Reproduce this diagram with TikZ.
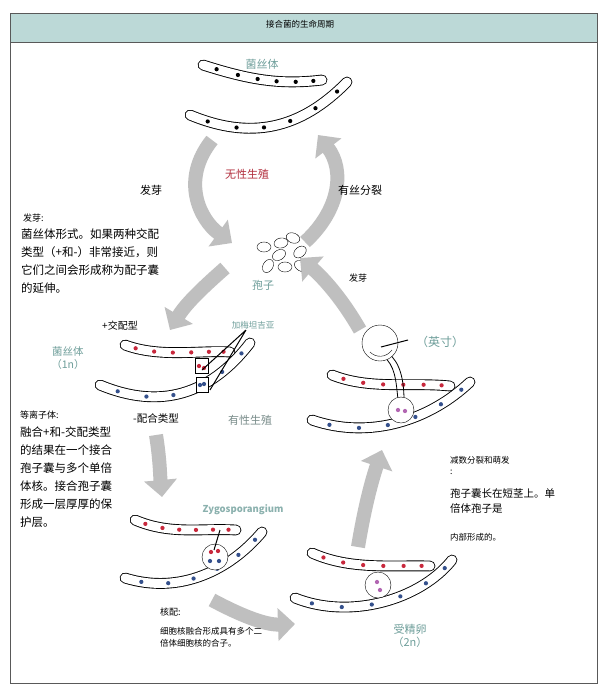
\documentclass[tikz,border=0pt]{standalone}
\usepackage{fontspec}
\setmainfont{Noto Sans CJK SC}
\usetikzlibrary{arrows.meta}
\definecolor{teal1}{HTML}{6E9E9A}
\definecolor{red1}{HTML}{B22D3C}
\definecolor{head}{HTML}{BCD9D7}
\definecolor{dred}{HTML}{C8283C}
\definecolor{dblue}{HTML}{34508C}
\tikzset{
 hy/.style={double=white,double distance=9pt,line width=0.9pt,line cap=round},
 d/.style={circle,fill=#1,inner sep=1.5pt},
 big/.style={line width=14pt,draw=gray!50,-{Triangle[length=17pt,width=32pt]}},
 lab/.style={font=\fontsize{9}{11}\selectfont,align=left,anchor=north west,inner sep=0},
 para/.style={font=\fontsize{11.5}{18}\selectfont,align=left,anchor=north west,inner sep=0},
 tl/.style={text=teal1,font=\fontsize{11}{13}\selectfont,align=center}
}
\newcommand\hyp[2]{\draw[hy] #1; \path #1 node[pos=.1,d=#2]{} node[pos=.27,d=#2]{} node[pos=.44,d=#2]{} node[pos=.61,d=#2]{} node[pos=.78,d=#2]{} node[pos=.93,d=#2]{};}
\begin{document}
\begin{tikzpicture}[x=1pt,y=-1pt]
\useasboundingbox (0,0) rectangle (600,689);
\fill[white] (0,0) rectangle (600,689);
\draw[gray!70!black,line width=1pt,fill=head] (10,13) rectangle (597,42);
\draw[gray!70!black,line width=1pt] (10,42) rectangle (597,683);
\node[font=\fontsize{8.5}{10}\selectfont] (title) at (300,24) {接合菌的生命周期};
% top hyphae
\hyp{(203,65) .. controls (250,80) and (280,85) .. (322,80)}{black}
\hyp{(190,115) .. controls (250,140) and (300,130) .. (347,82)}{black}
% mid-left
\hyp{(125,345) .. controls (160,358) and (200,350) .. (230,352)}{dred}
\hyp{(100,385) .. controls (160,410) and (210,395) .. (250,343)}{dblue}
\draw[fill=white] (195,358) rectangle (208,373);
\draw[fill=white] (196,377) rectangle (208,392);
\node[d=dred] (g1) at (199,366) {}; \node[d=dred] at (204,368){};
\node[d=dblue] (g2) at (200,385) {}; \node[d=dblue] at (204,384){};
% zygosporangium
\hyp{(135,520) .. controls (170,535) and (200,528) .. (236,530)}{dred}
\hyp{(125,578) .. controls (180,595) and (230,570) .. (262,532)}{dblue}
\draw[fill=white] (215,557) circle (13);
\node[d=dred] (z) at (211,552) {}; \node[d=dred] at (218,551){};
\node[d=dblue] at (210,561){}; \node[d=dblue] at (219,561){};
% fertilised egg
\hyp{(312,553) .. controls (350,570) and (390,565) .. (430,566)}{dred}
\hyp{(295,598) .. controls (350,620) and (420,600) .. (452,560)}{dblue}
\draw[fill=white] (378,585) circle (13);
\node[d=violet!60] (zy) at (377,582) {}; \node[d=violet!60] at (380,590){};
% top right sporangium
\hyp{(332,375) .. controls (370,390) and (410,382) .. (450,386)}{dred}
\hyp{(312,420) .. controls (370,440) and (430,420) .. (470,382)}{dblue}
\draw[line width=0.8pt] (398,400) .. controls (396,380) and (395,365) .. (383,356);
\draw[line width=0.8pt] (404,400) .. controls (404,380) and (400,362) .. (388,353);
\draw[fill=white] (401,410) circle (13);
\node[d=violet!60] (sp) at (398,410){}; \node[d=violet!60] at (405,411){};
\draw[fill=white] (380,343) circle (18);
\draw (370,352) .. controls (376,358) and (386,358) .. (392,350);
\draw[line width=1pt] (381,347) -- (408,340);
% spores
\foreach \x/\y/\a in {264/247/0,279/255/30,293/238/-20,300/252/40,268/266/60,285/267/0,301/266/-30,281/243/10}
  \draw[fill=white,rotate around={\a:(\x,\y)}] (\x,\y) ellipse (7 and 5);
\node (spores) at (283,254) {};
% big arrows
\draw[big] (212,140) .. controls (180,180) and (200,220) .. (232,243);
\draw[big] (305,242) .. controls (340,210) and (345,170) .. (318,135);
\draw[big] (225,268) .. controls (200,290) and (185,305) .. (170,330);
\draw[big] (360,330) .. controls (340,295) and (320,275) .. (300,258);
\draw[big] (156,435) .. controls (160,460) and (160,475) .. (162,497);
\draw[big] (212,600) .. controls (240,615) and (265,625) .. (295,624);
\draw[big] (358,547) .. controls (365,505) and (372,480) .. (382,450);
% pointers
\draw[line width=1pt] (246,330) -- (202,370) (246,330) -- (210,390);
\draw[line width=1pt] (220,530) -- (214,550);
% labels
\node[tl] (l1) at (262,64) {菌丝体};
\node[text=red1,font=\fontsize{11}{13}\selectfont] (l2) at (247,174) {无性生殖};
\node[font=\fontsize{11}{13}\selectfont] (l3) at (151,190) {发芽};
\node[font=\fontsize{11}{13}\selectfont] (l4) at (360,190) {有丝分裂};
\node[lab] (l5) at (23,214) {发芽:};
\node[para] (l6) at (21,229) {菌丝体形式。如果两种交配\\类型（+和-）非常接近，则\\它们之间会形成称为配子囊\\的延伸。};
\node[tl] (l7) at (263,285) {孢子};
\node[lab] (l8) at (349,274) {发芽};
\node[font=\fontsize{10}{12}\selectfont] (l9) at (120,326) {+交配型};
\node[tl,font=\fontsize{8.5}{10}\selectfont] (l10) at (253,325) {加梅坦吉亚};
\node[tl,font=\fontsize{12}{14}\selectfont] (l11) at (440,342) {（英寸）};
\node[tl,font=\fontsize{10.5}{13}\selectfont] (l12) at (68,358) {菌丝体\\（1n）};
\node[lab] (l13) at (20,411) {等离子体:};
\node[para] (l14) at (20,427) {融合+和-交配类型\\的结果在一个接合\\孢子囊与多个单倍\\体核。接合孢子囊\\形成一层厚厚的保\\护层。};
\node[font=\fontsize{10.5}{12}\selectfont] (l15) at (156,418) {-配合类型};
\node[text=gray!60!teal1,font=\fontsize{11}{13}\selectfont] (l16) at (250,420) {有性生殖};
\node[lab,font=\fontsize{8.5}{11}\selectfont] (l17) at (450,456) {减数分裂和萌发\\:};
\node[para,font=\fontsize{10.5}{15}\selectfont] (l18) at (450,488) {孢子囊长在短茎上。单\\倍体孢子是};
\node[lab,font=\fontsize{8.5}{11}\selectfont] (l19) at (450,533) {内部形成的。};
\node[text=teal1!80,font=\bfseries\fontsize{9.5}{11}\selectfont] (l20) at (243,510) {Zygosporangium};
\node[lab] (l21) at (160,608) {核配:};
\node[lab,font=\fontsize{8.5}{12}\selectfont] (l22) at (160,627) {细胞核融合形成具有多个二\\倍体细胞核的合子。};
\node[tl] (l23) at (410,636) {受精卵\\（2n）};
\end{tikzpicture}
\end{document}
